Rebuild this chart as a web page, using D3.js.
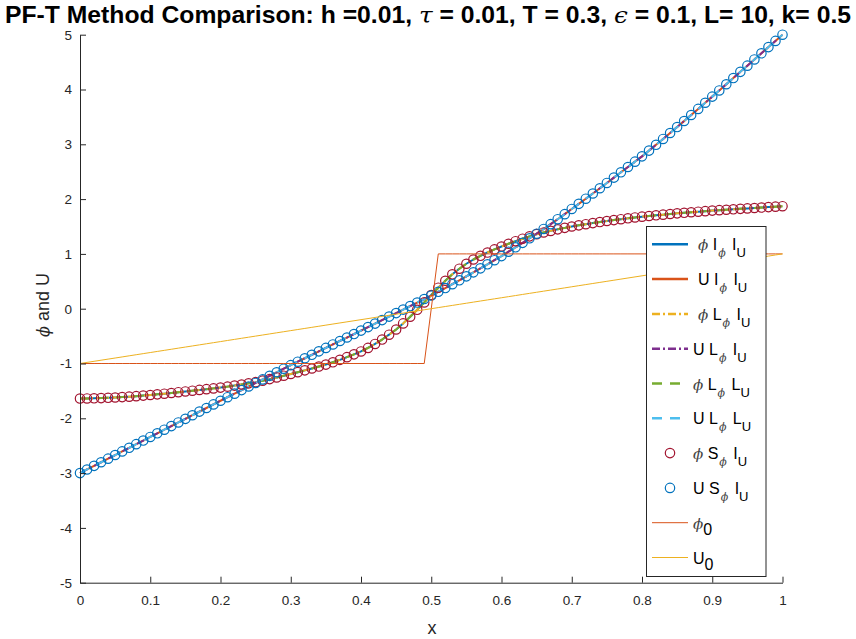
<!DOCTYPE html>
<html><head><meta charset="utf-8">
<script src="https://cdn.jsdelivr.net/npm/d3@7"></script>
<style>body{margin:0;background:#fff;} svg{display:block;font-family:"Liberation Sans",Arial,sans-serif;}</style>
</head><body><svg id="c" width="856" height="639"></svg>
<script>
// ---- data ----
const xGrid = d3.range(101).map(i => +(i * 0.01).toFixed(2));
const phiVals = [-1.640,-1.638,-1.635,-1.631,-1.626,-1.620,-1.613,-1.605,-1.596,-1.586,
 -1.575,-1.563,-1.551,-1.538,-1.524,-1.510,-1.496,-1.482,-1.468,-1.454,
 -1.440,-1.422,-1.403,-1.383,-1.362,-1.340,-1.313,-1.285,-1.255,-1.223,
 -1.190,-1.158,-1.125,-1.091,-1.056,-1.020,-0.978,-0.933,-0.884,-0.833,
 -0.780,-0.715,-0.643,-0.563,-0.474,-0.380,-0.268,-0.147,-0.020,0.115,
 0.250,0.383,0.510,0.627,0.730,0.820,0.898,0.965,1.025,1.082,
 1.135,1.185,1.232,1.277,1.320,1.360,1.391,1.420,1.448,1.475,
 1.500,1.521,1.542,1.562,1.581,1.600,1.617,1.633,1.650,1.665,
 1.680,1.692,1.704,1.716,1.728,1.740,1.750,1.760,1.770,1.780,
 1.790,1.798,1.806,1.814,1.822,1.830,1.838,1.846,1.854,1.862,1.870];
const uVals = [-3.000,-2.934,-2.868,-2.802,-2.736,-2.670,-2.604,-2.538,-2.472,-2.406,
 -2.340,-2.274,-2.208,-2.142,-2.076,-2.010,-1.944,-1.878,-1.812,-1.746,
 -1.680,-1.615,-1.550,-1.485,-1.420,-1.355,-1.290,-1.225,-1.160,-1.095,
 -1.030,-0.967,-0.904,-0.841,-0.778,-0.715,-0.652,-0.589,-0.526,-0.463,
 -0.400,-0.336,-0.272,-0.208,-0.144,-0.080,-0.016,0.048,0.112,0.176,
 0.240,0.308,0.377,0.447,0.518,0.590,0.663,0.736,0.810,0.885,
 0.960,1.040,1.120,1.202,1.285,1.369,1.455,1.543,1.633,1.725,
 1.820,1.913,2.007,2.102,2.198,2.295,2.392,2.489,2.586,2.683,
 2.780,2.885,2.991,3.098,3.206,3.315,3.425,3.535,3.646,3.758,
 3.870,3.983,4.096,4.209,4.322,4.435,4.548,4.661,4.774,4.887,5.000];
const phi0Vals = [-1,-1,-1,-1,-1,-1,-1,-1,-1,-1, -1,-1,-1,-1,-1,-1,-1,-1,-1,-1,
 -1,-1,-1,-1,-1,-1,-1,-1,-1,-1, -1,-1,-1,-1,-1,-1,-1,-1,-1,-1,
 -1,-1,-1,-1,-1,-1,-1,-1,-1,-1, 0,1,1,1,1,1,1,1,1,1,
 1,1,1,1,1,1,1,1,1,1, 1,1,1,1,1,1,1,1,1,1,
 1,1,1,1,1,1,1,1,1,1, 1,1,1,1,1,1,1,1,1,1,1];
const u0Vals = [-1.00,-0.98,-0.96,-0.94,-0.92,-0.90,-0.88,-0.86,-0.84,-0.82,
 -0.80,-0.78,-0.76,-0.74,-0.72,-0.70,-0.68,-0.66,-0.64,-0.62,
 -0.60,-0.58,-0.56,-0.54,-0.52,-0.50,-0.48,-0.46,-0.44,-0.42,
 -0.40,-0.38,-0.36,-0.34,-0.32,-0.30,-0.28,-0.26,-0.24,-0.22,
 -0.20,-0.18,-0.16,-0.14,-0.12,-0.10,-0.08,-0.06,-0.04,-0.02,
 0.00,0.02,0.04,0.06,0.08,0.10,0.12,0.14,0.16,0.18,
 0.20,0.22,0.24,0.26,0.28,0.30,0.32,0.34,0.36,0.38,
 0.40,0.42,0.44,0.46,0.48,0.50,0.52,0.54,0.56,0.58,
 0.60,0.62,0.64,0.66,0.68,0.70,0.72,0.74,0.76,0.78,
 0.80,0.82,0.84,0.86,0.88,0.90,0.92,0.94,0.96,0.98,1.00];
const xTicks = [0,0.1,0.2,0.3,0.4,0.5,0.6,0.7,0.8,0.9,1];
const xTickLabels = ["0","0.1","0.2","0.3","0.4","0.5","0.6","0.7","0.8","0.9","1"];
const yTicks = [-5,-4,-3,-2,-1,0,1,2,3,4,5];
const yTickLabels = ["-5","-4","-3","-2","-1","0","1","2","3","4","5"];

const series = [
  {name:"phi_I_I", vals:phiVals, color:"#0072BD", dash:null, w:2, marker:false, lead:true, main:"ϕ", mid1:"I", mid2:"I", sub2:"U"},
  {name:"U_I_I",   vals:uVals,   color:"#D95319", dash:null, w:2, marker:false, lead:true, main:"U", mid1:"I", mid2:"I", sub2:"U"},
  {name:"phi_L_I", vals:phiVals, color:"#EDB120", dash:"8,3,2,3", w:2, marker:false, lead:true, main:"ϕ", mid1:"L", mid2:"I", sub2:"U"},
  {name:"U_L_I",   vals:uVals,   color:"#7E2F8E", dash:"8,3,2,3", w:2, marker:false, lead:false, main:"U", mid1:"L", mid2:"I", sub2:"U"},
  {name:"phi_L_L", vals:phiVals, color:"#77AC30", dash:"10,8", w:2, marker:false, lead:false, main:"ϕ", mid1:"L", mid2:"L", sub2:"U"},
  {name:"U_L_L",   vals:uVals,   color:"#4DBEEE", dash:"10,8", w:2, marker:false, lead:false, main:"U", mid1:"L", mid2:"L", sub2:"U"},
  {name:"phi_S_I", vals:phiVals, color:"#A2142F", dash:null, w:1, marker:true, lead:false, main:"ϕ", mid1:"S", mid2:"I", sub2:"U"},
  {name:"U_S_I",   vals:uVals,   color:"#0072BD", dash:null, w:1, marker:true, lead:false, main:"U", mid1:"S", mid2:"I", sub2:"U"},
  {name:"phi0",    vals:phi0Vals,color:"#D95319", dash:null, w:1, marker:false, lead:false, main:"ϕ", sub0:"0"},
  {name:"U0",      vals:u0Vals,  color:"#EDB120", dash:null, w:1, marker:false, lead:false, main:"U", sub0:"0"}
];

// ---- layout ----
const svg = d3.select("#c");
const x = d3.scaleLinear().domain([0,1]).range([80,782.5]);
const y = d3.scaleLinear().domain([-5,5]).range([582.7,34.7]);
const axisColor = "#262626";

const line = d3.line().x((d,i)=>x(xGrid[i])).y(d=>y(d));

const gData = svg.append("g");
series.forEach(s => {
  if (s.marker) {
    gData.append("g").selectAll("circle").data(s.vals).join("circle")
      .attr("cx",(d,i)=>x(xGrid[i])).attr("cy",d=>y(d)).attr("r",4.7)
      .attr("fill","none").attr("stroke",s.color).attr("stroke-width",1.2);
  } else {
    gData.append("path").datum(s.vals).attr("d",line)
      .attr("fill","none").attr("stroke",s.color).attr("stroke-width",s.w)
      .attr("stroke-dasharray",s.dash).attr("stroke-linejoin","round");
  }
});

// axes
const xAxis = d3.axisBottom(x).tickValues(xTicks).tickFormat((d,i)=>xTickLabels[i])
  .tickSizeInner(-6).tickSizeOuter(0).tickPadding(13);
const yAxis = d3.axisLeft(y).tickValues(yTicks).tickFormat((d,i)=>yTickLabels[i])
  .tickSizeInner(-6).tickSizeOuter(0).tickPadding(8);
const gx = svg.append("g").attr("transform","translate(0,582.7)").call(xAxis);
const gy = svg.append("g").attr("transform","translate(80,0)").call(yAxis);
[gx,gy].forEach(g=>{
  g.select(".domain").attr("stroke",axisColor).attr("stroke-width",1);
  g.selectAll(".tick line").attr("stroke",axisColor);
  g.selectAll(".tick text").attr("fill",axisColor).attr("font-size",13.5)
    .attr("font-family","Liberation Sans, Arial, sans-serif");
});

// title
const title = svg.append("text").attr("x",428).attr("y",23).attr("text-anchor","middle")
  .attr("font-size",23).attr("font-weight","bold").attr("fill","#000")
  .attr("textLength",846).attr("lengthAdjust","spacingAndGlyphs");
title.append("tspan").text("PF-T Method Comparison: h =0.01, ");
title.append("tspan").text("τ").attr("font-weight","normal").attr("font-style","italic").attr("font-family","DejaVu Serif");
title.append("tspan").text(" = 0.01, T = 0.3, ");
title.append("tspan").text("ϵ").attr("font-weight","normal").attr("font-style","italic").attr("font-family","DejaVu Serif");
title.append("tspan").text(" = 0.1, L= 10, k= 0.5");

// axis labels
svg.append("text").attr("x",432).attr("y",634).attr("text-anchor","middle")
  .attr("font-size",18).attr("fill",axisColor).text("x");
const yl = svg.append("text").attr("transform","translate(49,305) rotate(-90)")
  .attr("text-anchor","middle").attr("font-size",18).attr("fill",axisColor);
yl.append("tspan").text("ϕ").attr("font-style","italic").attr("font-family","DejaVu Serif").attr("font-size",16);
yl.append("tspan").text(" and U");

// legend
const lg = svg.append("g");
lg.append("rect").attr("x",646.5).attr("y",226.5).attr("width",119.5).attr("height",350)
  .attr("fill","#fff").attr("stroke",axisColor).attr("stroke-width",1);
const rowY = d3.range(series.length).map(i => 244.3 + i*34.8);
series.forEach((s,i)=>{
  const yy = rowY[i];
  if (s.marker) {
    lg.append("circle").attr("cx",670).attr("cy",yy).attr("r",4.7)
      .attr("fill","none").attr("stroke",s.color).attr("stroke-width",1.2);
  } else {
    lg.append("line").attr("x1",652).attr("x2",688).attr("y1",yy).attr("y2",yy)
      .attr("stroke",s.color).attr("stroke-width",s.w === 2 ? 2.5 : 1)
      .attr("stroke-dasharray",s.dash);
  }
  const t = lg.append("text").attr("x", s.lead ? 698 : 693).attr("y", yy + 6)
    .attr("font-size",16).attr("fill","#000");
  const greek = s.main === "ϕ";
  const m = t.append("tspan").text(s.main);
  if (greek) m.attr("font-style","italic").attr("font-family","DejaVu Serif").attr("font-size",15).attr("fill","#444");
  if (s.sub0) {
    t.append("tspan").text(s.sub0).attr("dy",6).attr("font-size",16);
    return;
  }
  t.append("tspan").text(" " + s.mid1);
  t.append("tspan").text("ϕ").attr("dy",7).attr("dx",1).attr("font-size",11)
    .attr("font-style","italic").attr("font-family","DejaVu Serif").attr("fill","#444");
  t.append("tspan").text(" " + s.mid2).attr("dy",-7).attr("dx",2);
  t.append("tspan").text(s.sub2).attr("dy",7).attr("font-size",13);
});
</script></body></html>
